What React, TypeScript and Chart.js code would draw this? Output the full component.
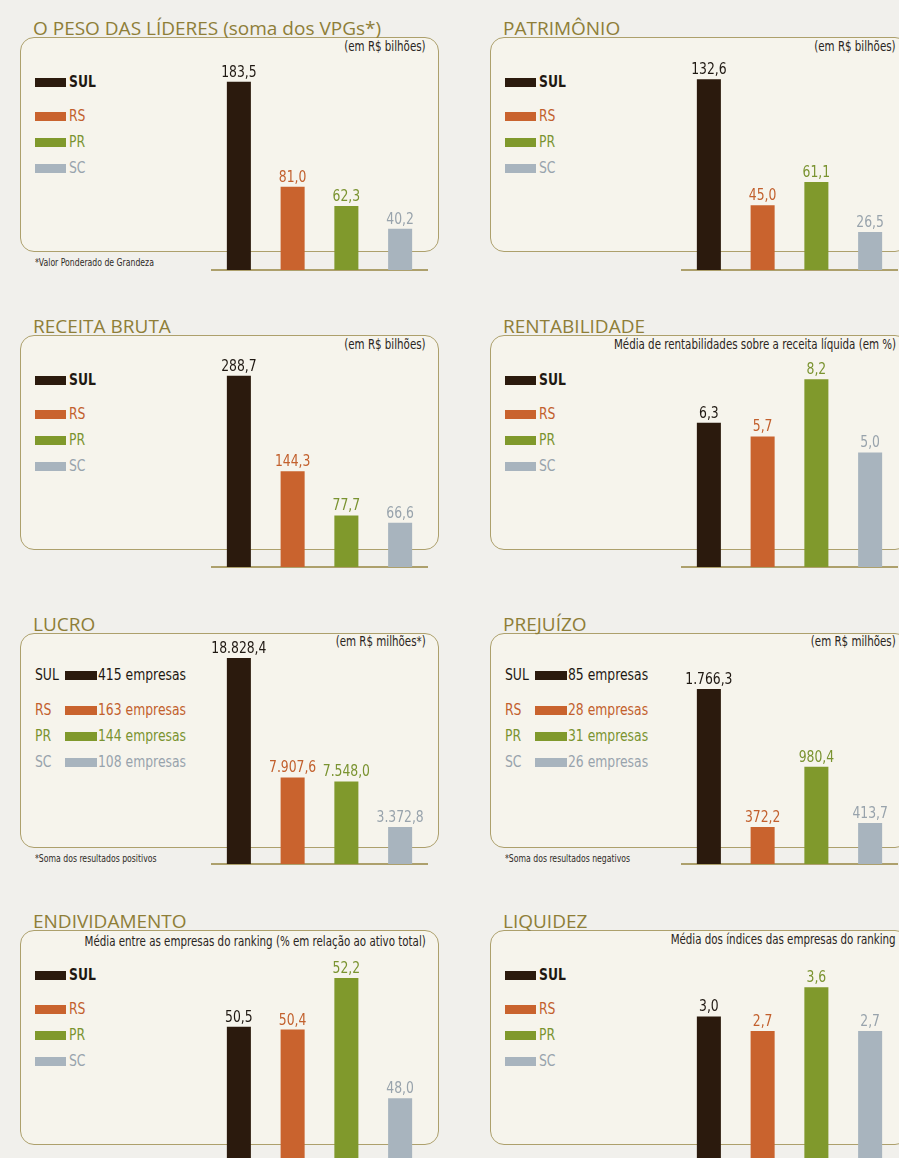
import React, { useEffect, useRef } from "react";
import { Chart, registerables } from "chart.js";
Chart.register(...registerables);

// ---------- data ----------
const REGIONS = ["SUL", "RS", "PR", "SC"];

const TITLES = [
  "O PESO DAS LÍDERES (soma dos VPGs*)",
  "PATRIMÔNIO",
  "RECEITA BRUTA",
  "RENTABILIDADE",
  "LUCRO",
  "PREJUÍZO",
  "ENDIVIDAMENTO",
  "LIQUIDEZ",
];
const UNITS = [
  "(em R$ bilhões)",
  "(em R$ bilhões)",
  "(em R$ bilhões)",
  "Média de rentabilidades sobre a receita líquida (em %)",
  "(em R$ milhões*)",
  "(em R$ milhões)",
  "Média entre as empresas do ranking (% em relação ao ativo total)",
  "Média dos índices das empresas do ranking",
];
const FOOTNOTES = [
  "*Valor Ponderado de Grandeza",
  "",
  "",
  "",
  "*Soma dos resultados positivos",
  "*Soma dos resultados negativos",
  "",
  "",
];

const PESO_VPG = [183.5, 81.0, 62.3, 40.2];
const PATRIMONIO = [132.6, 45.0, 61.1, 26.5];
const RECEITA_BRUTA = [288.7, 144.3, 77.7, 66.6];
const RENTABILIDADE = [6.3, 5.7, 8.2, 5.0];
const LUCRO = [18828.4, 7907.6, 7548.0, 3372.8];
const PREJUIZO = [1766.3, 372.2, 980.4, 413.7];
const ENDIVIDAMENTO = [50.5, 50.4, 52.2, 48.0];
const LIQUIDEZ = [3.0, 2.7, 3.6, 2.7];

const LUCRO_EMPRESAS = [415, 163, 144, 108];
const PREJUIZO_EMPRESAS = [85, 28, 31, 26];

// value-axis ranges of each panel
const Y_MIN = [0, 0, 0, 0, 0, 0, 45.77, 0];
const Y_MAX = [227, 162, 350, 10.13, 21115, 2331, 53.88, 4.78];

const SERIES = [PESO_VPG, PATRIMONIO, RECEITA_BRUTA, RENTABILIDADE, LUCRO, PREJUIZO, ENDIVIDAMENTO, LIQUIDEZ];
const EMPRESAS: (number[] | null)[] = [null, null, null, null, LUCRO_EMPRESAS, PREJUIZO_EMPRESAS, null, null];

// ---------- style / layout ----------
const BAR_COLORS = ["#2b1a0d", "#c9632e", "#80992c", "#a8b4be"];
const TEXT_COLORS = ["#1f1812", "#c2602d", "#7a9330", "#98a3ac"];
const PAPER = "#f1f0ec";
const BOX_FILL = "#f6f4ec";
const OLIVE_LINE = "#ada06c";
const TITLE_COLOR = "#8e7e38";
const NARROW = '"Liberation Sans Narrow", "DejaVu Sans Condensed", "Arial Narrow", sans-serif';
const TITLE_FONT = '"Open Sans", "Noto Sans", sans-serif';
const SQUEEZE = 0.86;

const COL_X = [0, 470];
const BOX_TOPS = [37, 335, 633, 930];
const BASELINES = [270, 567, 864, 1162];
const UNIT_DY = [10, 10, 10, 10, 9, 9, 12, 10];
const SIDE_PAD = 24;

function fmtBR(v: number): string {
  const [i, d] = v.toFixed(1).split(".");
  return i.replace(/\B(?=(\d{3})+(?!\d))/g, ".") + "," + d;
}

const valueLabelPlugin = {
  id: "valueLabels",
  afterDatasetsDraw(chart: any) {
    const ctx = chart.ctx;
    const meta = chart.getDatasetMeta(0);
    const data = chart.data.datasets[0].data as number[];
    ctx.save();
    ctx.font = `16px ${NARROW}`;
    ctx.textAlign = "center";
    ctx.textBaseline = "alphabetic";
    meta.data.forEach((bar: any, i: number) => {
      ctx.save();
      ctx.translate(bar.x, bar.y - 5);
      ctx.scale(SQUEEZE, 1);
      ctx.fillStyle = TEXT_COLORS[i];
      ctx.fillText(fmtBR(data[i]), 0, 0);
      ctx.restore();
    });
    ctx.restore();
  },
};

function NText({
  x,
  cy,
  size,
  color,
  weight = 400,
  align = "left",
  children,
}: {
  x: number;
  cy: number;
  size: number;
  color: string;
  weight?: number;
  align?: "left" | "right";
  children: React.ReactNode;
}) {
  const pos: any = align === "left" ? { left: x } : { right: 899 - x };
  return (
    <div
      style={{
        position: "absolute",
        ...pos,
        top: cy - size / 2,
        fontFamily: NARROW,
        fontSize: size,
        lineHeight: `${size}px`,
        fontWeight: weight,
        color,
        whiteSpace: "nowrap",
        transform: `scaleX(${SQUEEZE})`,
        transformOrigin: align === "left" ? "left center" : "right center",
        zIndex: 1,
      }}
    >
      {children}
    </div>
  );
}

function BarCanvas({ idx, left, top, width, height }: { idx: number; left: number; top: number; width: number; height: number }) {
  const ref = useRef<HTMLCanvasElement>(null);
  useEffect(() => {
    if (!ref.current) return;
    const chart = new Chart(ref.current, {
      type: "bar",
      data: {
        labels: REGIONS,
        datasets: [
          {
            data: SERIES[idx],
            backgroundColor: BAR_COLORS,
            borderWidth: 0,
            barPercentage: 0.447,
            categoryPercentage: 1,
          },
        ],
      },
      options: {
        animation: false,
        responsive: false,
        maintainAspectRatio: false,
        layout: { padding: { top: 0, bottom: 3, left: SIDE_PAD, right: SIDE_PAD } },
        plugins: { legend: { display: false }, tooltip: { enabled: false } },
        scales: {
          x: {
            display: true,
            grid: { display: false, drawTicks: false },
            ticks: { display: false },
            border: { display: true, color: OLIVE_LINE, width: 2 },
            afterFit: (s: any) => {
              s.height = 0;
            },
          },
          y: { display: false, min: Y_MIN[idx], max: Y_MAX[idx] },
        },
      },
      plugins: [valueLabelPlugin],
    } as any);
    return () => chart.destroy();
  }, [idx]);
  return (
    <canvas
      ref={ref}
      width={width}
      height={height}
      style={{ position: "absolute", left, top, width, height, zIndex: 2 }}
    />
  );
}

function Panel({ idx }: { idx: number }) {
  const col = idx % 2;
  const row = Math.floor(idx / 2);
  const x0 = COL_X[col];
  const boxTop = BOX_TOPS[row];
  const baseline = BASELINES[row];
  const emp = EMPRESAS[idx];
  const legendDy = emp ? [42, 77, 103, 129] : [45, 79, 105, 131];

  return (
    <>
      <div
        style={{
          position: "absolute",
          left: x0 + 20,
          top: boxTop,
          width: 419,
          height: 215,
          border: `1.5px solid ${OLIVE_LINE}`,
          borderRadius: 14,
          background: BOX_FILL,
          boxSizing: "border-box",
          zIndex: 0,
        }}
      />
      <div
        style={{
          position: "absolute",
          left: x0 + 33,
          top: boxTop - 18,
          fontFamily: TITLE_FONT,
          fontSize: 19,
          lineHeight: "19px",
          color: TITLE_COLOR,
          whiteSpace: "nowrap",
          zIndex: 1,
        }}
      >
        {TITLES[idx]}
      </div>
      <NText x={x0 + 426} cy={boxTop + UNIT_DY[idx]} size={13.3} color="#2a2521" align="right">
        {UNITS[idx]}
      </NText>
      {REGIONS.map((r, i) => {
        const cy = boxTop + legendDy[i];
        if (emp) {
          return (
            <React.Fragment key={r}>
              <NText x={x0 + 35} cy={cy} size={16} color={TEXT_COLORS[i]}>
                {r}
              </NText>
              <div style={{ position: "absolute", left: x0 + 65, top: cy - 4, width: 32, height: 9, background: BAR_COLORS[i], zIndex: 1 }} />
              <NText x={x0 + 98} cy={cy} size={16} color={TEXT_COLORS[i]}>
                {`${emp[i]} empresas`}
              </NText>
            </React.Fragment>
          );
        }
        return (
          <React.Fragment key={r}>
            <div style={{ position: "absolute", left: x0 + 35, top: cy - 4, width: 31, height: 9, background: BAR_COLORS[i], zIndex: 1 }} />
            <NText x={x0 + 69} cy={cy} size={16} color={TEXT_COLORS[i]} weight={i === 0 ? 700 : 400}>
              {r}
            </NText>
          </React.Fragment>
        );
      })}
      {FOOTNOTES[idx] && (
        <NText x={x0 + 35} cy={boxTop + 226} size={10} color="#2f2a26">
          {FOOTNOTES[idx]}
        </NText>
      )}
      <BarCanvas
        idx={idx}
        left={x0 + 212 - SIDE_PAD}
        top={boxTop}
        width={215 + 2 * SIDE_PAD}
        height={baseline - boxTop + 3}
      />
    </>
  );
}

export default function App() {
  return (
    <div
      style={{
        position: "absolute",
        left: 0,
        top: 0,
        width: 899,
        height: 1158,
        overflow: "hidden",
        background: PAPER,
      }}
    >
      {TITLES.map((_, i) => (
        <Panel key={i} idx={i} />
      ))}
    </div>
  );
}
